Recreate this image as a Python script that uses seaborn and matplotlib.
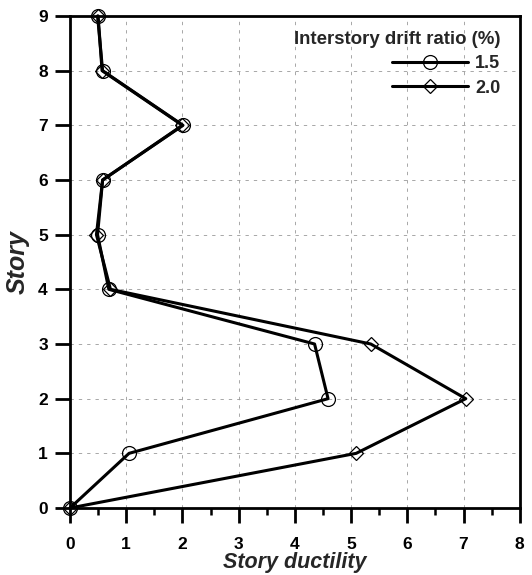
import matplotlib
matplotlib.use("Agg")
import matplotlib.pyplot as plt
from matplotlib.ticker import MultipleLocator
import seaborn as sns
import pandas as pd

sns.set_style("ticks")
plt.rcParams['font.family'] = ['Liberation Sans', 'DejaVu Sans']
plt.rcParams.update({
    "xtick.major.size": 11, "ytick.major.size": 11, "xtick.minor.size": 5,
    "xtick.major.width": 2, "ytick.major.width": 2, "xtick.minor.width": 1.8,
    "xtick.color": "black", "ytick.color": "black",
    "xtick.major.pad": 10, "ytick.major.pad": 5,
    "xtick.labelsize": 12.5, "ytick.labelsize": 12.5,
})

# story number and ductility per drift ratio
stories = [0, 1, 2, 3, 4, 5, 6, 7, 8, 9]
duct_15 = [0.0, 1.05, 4.59, 4.35, 0.69, 0.49, 0.58, 2.01, 0.58, 0.49]
duct_20 = [0.0, 5.09, 7.04, 5.35, 0.72, 0.47, 0.58, 2.00, 0.57, 0.50]
labels = ["1.5", "2.0"]

df = pd.concat([
    pd.DataFrame({"story": stories, "ductility": duct_15, "ratio": labels[0]}),
    pd.DataFrame({"story": stories, "ductility": duct_20, "ratio": labels[1]}),
])

fig = plt.figure(figsize=(5.32, 5.75), dpi=100)
ax = fig.add_axes([0.1316, 0.1165, 0.8454, 0.8557])

sns.lineplot(data=df, x="ductility", y="story", hue="ratio", style="ratio",
             palette=["black", "black"], markers={"1.5": "o", "2.0": "D"},
             dashes=False, sort=False, estimator=None, lw=2.2, ax=ax)
# open markers, smaller diamonds, not clipped at the frame
for ln in ax.lines:
    ln.set_clip_on(False)
    ln.set_markerfacecolor("none")
    ln.set_markeredgecolor("black")
    ln.set_markeredgewidth(0.9)
    ln.set_markersize(7.5 if ln.get_marker() == "D" else 10)

ax.set_xlim(0, 8)
ax.set_ylim(0, 9)
ax.xaxis.set_major_locator(MultipleLocator(1))
ax.xaxis.set_minor_locator(MultipleLocator(0.5))
ax.yaxis.set_major_locator(MultipleLocator(1))
ax.grid(True, which="major", ls=(0, (4, 6)), color="#999999", lw=0.6)

for s in ax.spines.values():
    s.set_visible(True)
    s.set_linewidth(2.0)
    s.set_color("black")
for t in ax.get_xticklabels() + ax.get_yticklabels():
    t.set_fontweight("bold")

ax.set_xlabel("Story ductility", fontsize=15.5, fontweight="bold", style="italic", labelpad=0)
ax.set_ylabel("Story", fontsize=18, fontweight="bold", style="italic", labelpad=6)

h, l = ax.get_legend_handles_labels()
for hh in h:
    hh.set_markerfacecolor("none")
    hh.set_markeredgecolor("black")
    hh.set_markeredgewidth(0.9)
    hh.set_markersize(7.5 if hh.get_marker() == "D" else 10)
leg = ax.legend(h, l, title="Interstory drift ratio (%)", loc="upper right",
                frameon=False, handlelength=4.2, fontsize=13,
                title_fontproperties={"weight": "bold", "size": 13.4},
                bbox_to_anchor=(0.985, 0.995), labelspacing=0.4, handletextpad=0.4,
                borderaxespad=0.3)
leg._legend_box.align = "right"
for t in leg.get_texts():
    t.set_fontweight("bold")

fig.savefig("out.png", dpi=100)
